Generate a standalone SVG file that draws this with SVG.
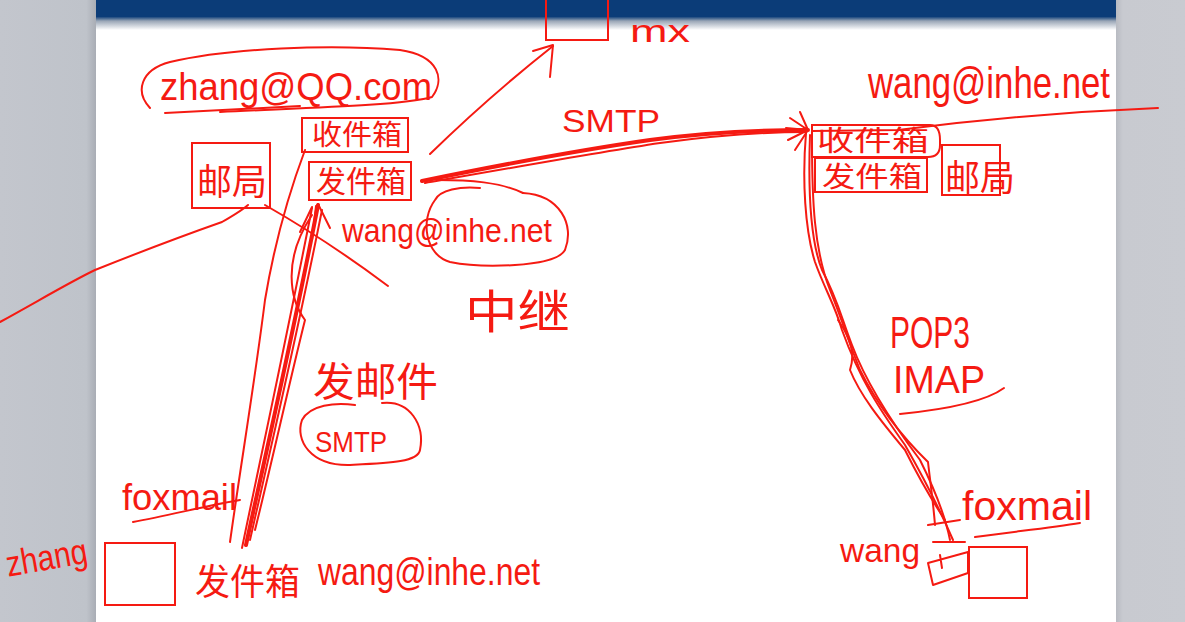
<svg xmlns="http://www.w3.org/2000/svg" width="1185" height="622" viewBox="0 0 1185 622">
<defs>
<linearGradient id="gl" x1="0" x2="1" y1="0" y2="0"><stop offset="0" stop-color="#c3c6cd"/><stop offset="0.9" stop-color="#bfc3ca"/><stop offset="1" stop-color="#a9adb5"/></linearGradient>
<linearGradient id="gr" x1="0" x2="1" y1="0" y2="0"><stop offset="0" stop-color="#b8bbc2"/><stop offset="0.1" stop-color="#c8cad0"/><stop offset="1" stop-color="#c9cbd1"/></linearGradient>
<linearGradient id="gb" x1="0" x2="0" y1="0" y2="1"><stop offset="0" stop-color="#0b3c78"/><stop offset="0.55" stop-color="#0b3c78"/><stop offset="0.7" stop-color="#9aa6b6"/><stop offset="1" stop-color="#ffffff"/></linearGradient>
<style>
.s{fill:none;stroke:#f51a12;stroke-width:2;stroke-linecap:round;stroke-linejoin:round}
.t{stroke-width:4}
.b{fill:none;stroke:#f51a12;stroke-width:2}
.x{fill:#f51a12;font-family:"Liberation Sans","Noto Sans CJK SC",sans-serif}
</style>
</defs>
<rect x="0" y="0" width="1185" height="622" fill="#ffffff"/>
<rect x="0" y="0" width="96" height="622" fill="url(#gl)"/>
<rect x="1116" y="0" width="69" height="622" fill="url(#gr)"/>
<rect x="96" y="0" width="1020" height="30" fill="url(#gb)"/>

<g id="connectors">
<path class="s" d="M0,322 C40,300 70,282 95,270 C140,252 185,235 222,222 C232,216 240,212 248,205"/>
<path class="s" d="M265,205 C300,225 340,250 388,286"/>
<path class="s" d="M230,542 C240,470 255,380 265,300 C275,240 290,190 305,150"/>
<path class="s t" d="M246,545 C262,470 290,350 318,205"/>
<path class="s" d="M242,548 C258,470 282,360 312,208"/>
<path class="s" d="M250,540 C268,460 296,340 322,210"/>
<path class="s" d="M255,530 C270,470 290,380 305,320 C290,300 282,260 312,215"/>
<path class="s" d="M312,207 L300,232 M318,204 L330,228 M316,206 L312,240"/>
<path class="s" d="M430,154 C470,115 510,80 553,46"/>
<path class="s" d="M533,51 L553,45 L550,77"/>
<path class="s t" d="M422,181 C500,165 580,150 650,140 C710,132 760,130 808,130"/>
<path class="s" d="M425,183 C510,168 600,152 660,143 C720,135 770,132 806,132"/>
<path class="s" d="M437,180 C470,180 500,182 523,193"/>
<path class="s" d="M808,130 L790,118 M808,130 L786,128 M808,130 L788,140 M808,130 L795,150 M808,130 L800,112 M808,130 L796,122"/>
<path class="s" d="M806,133 C802,180 805,230 815,262 C825,290 835,305 842,330 C860,380 880,410 905,445 C925,480 940,510 953,540"/>
<path class="s" d="M810,135 C808,190 810,240 822,270 C838,300 842,320 852,345 C865,380 890,420 920,460 C935,490 945,515 950,540"/>
<path class="s" d="M812,140 C812,200 814,250 830,290 C842,320 848,340 860,370 C875,400 895,430 928,462 C930,480 933,500 935,525"/>
<path class="s" d="M838,320 C852,340 855,355 850,370 C860,395 880,420 905,450 C915,470 925,490 945,520"/>
<path class="s" d="M812,131 L898,130 C960,122 1060,112 1158,108"/>
</g>

<g id="mx-server">
<rect class="b" x="546" y="-4" width="62" height="44"/>
<text class="x" x="630" y="42" font-size="32" textLength="60" lengthAdjust="spacingAndGlyphs">mx</text>
</g>

<g id="sender-address">
<path class="s" d="M150,108 C135,92 140,70 170,62 C230,48 330,44 400,50 C440,56 445,80 432,97 C400,106 300,108 220,112"/>
<text class="x" x="160" y="100" font-size="38" textLength="272" lengthAdjust="spacingAndGlyphs">zhang@QQ.com</text>
<path class="s" d="M165,113 L300,106"/>
</g>

<g id="left-inbox">
<rect class="b" x="302" y="118" width="106" height="34"/>
<text class="x" x="312" y="145" font-size="28" textLength="90" lengthAdjust="spacingAndGlyphs">收件箱</text>
</g>

<g id="left-outbox">
<rect class="b" x="309" y="162" width="102" height="38"/>
<text class="x" x="316" y="192" font-size="30" textLength="90" lengthAdjust="spacingAndGlyphs">发件箱</text>
</g>

<g id="left-postoffice">
<rect class="b" x="192" y="143" width="78" height="65"/>
<text class="x" x="197" y="195" font-size="36" textLength="70" lengthAdjust="spacingAndGlyphs">邮局</text>
</g>

<g id="relay-address">
<path class="s" d="M523,193 C560,195 575,225 565,250 C555,268 480,268 450,262 C425,255 420,220 435,200 C440,190 460,186 480,188"/>
<text class="x" x="342" y="242" font-size="34" textLength="210" lengthAdjust="spacingAndGlyphs">wang@inhe.net</text>
</g>

<g id="relay-label">
<text class="x" x="562" y="132" font-size="32" textLength="98" lengthAdjust="spacingAndGlyphs">SMTP</text>
<text class="x" x="465" y="328" font-size="46" textLength="105" lengthAdjust="spacingAndGlyphs">中继</text>
</g>

<g id="send-label">
<text class="x" x="313" y="396" font-size="40" textLength="125" lengthAdjust="spacingAndGlyphs">发邮件</text>
<path class="s" d="M382,403 C410,400 425,425 420,450 C418,462 390,463 350,465 C310,466 295,440 302,420 C310,405 335,402 355,405"/>
<text class="x" x="315" y="452" font-size="30" textLength="72" lengthAdjust="spacingAndGlyphs">SMTP</text>
</g>

<g id="right-address">
<text class="x" x="868" y="98" font-size="44" textLength="242" lengthAdjust="spacingAndGlyphs">wang@inhe.net</text>
</g>

<g id="right-inbox">
<path class="b" d="M812,125 L930,125 Q940,125 940,140 L940,145 Q940,157 928,157 L812,157 Z"/>
<text class="x" x="817" y="151" font-size="28" textLength="112" lengthAdjust="spacingAndGlyphs">收件箱</text>
</g>

<g id="right-outbox">
<rect class="b" x="815" y="158" width="112" height="34"/>
<text class="x" x="822" y="187" font-size="28" textLength="100" lengthAdjust="spacingAndGlyphs">发件箱</text>
</g>

<g id="right-postoffice">
<rect class="b" x="942" y="145" width="58" height="50"/>
<text class="x" x="945" y="191" font-size="36" textLength="70" lengthAdjust="spacingAndGlyphs">邮局</text>
</g>

<g id="protocols">
<text class="x" x="890" y="348" font-size="44" textLength="80" lengthAdjust="spacingAndGlyphs">POP3</text>
<text class="x" x="893" y="393" font-size="38" textLength="92" lengthAdjust="spacingAndGlyphs">IMAP</text>
<path class="s" d="M900,414 C940,410 985,402 1004,388"/>
</g>

<g id="right-client">
<text class="x" x="962" y="520" font-size="40" textLength="130" lengthAdjust="spacingAndGlyphs">foxmail</text>
<path class="s" d="M975,537 C1010,532 1050,528 1080,523"/>
<text class="x" x="840" y="562" font-size="34" textLength="80" lengthAdjust="spacingAndGlyphs">wang</text>
<path class="s" d="M928,525 L960,520 M933,542 L965,542 M928,563 L968,552 L968,573 L933,585 Z M940,555 L942,568"/>
<rect class="b" x="969" y="547" width="58" height="51"/>
</g>

<g id="left-client">
<text class="x" x="122" y="510" font-size="36" textLength="115" lengthAdjust="spacingAndGlyphs">foxmail</text>
<path class="s" d="M133,522 C170,515 210,505 240,500"/>
<text class="x" x="5" y="570" font-size="36" textLength="82" lengthAdjust="spacingAndGlyphs" transform="rotate(-10 45 555)">zhang</text>
<rect class="b" x="105" y="543" width="70" height="62"/>
<text class="x" x="195" y="595" font-size="36" textLength="105" lengthAdjust="spacingAndGlyphs">发件箱</text>
<text class="x" x="318" y="585" font-size="38" textLength="222" lengthAdjust="spacingAndGlyphs">wang@inhe.net</text>
</g>
</svg>
